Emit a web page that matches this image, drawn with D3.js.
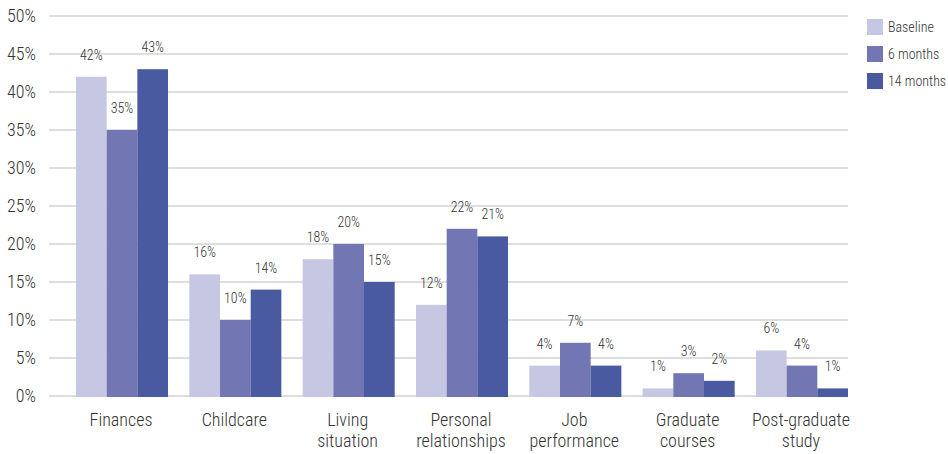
<!DOCTYPE html>
<html>
<head>
<meta charset="utf-8">
<script src="https://cdn.jsdelivr.net/npm/d3@7/dist/d3.min.js"></script>
<style>
  html, body { margin: 0; padding: 0; background: #fff; }
  svg { display: block; }
  text { font-family: "Roboto Condensed", "Liberation Sans Narrow", "DejaVu Sans Condensed", "DejaVu Sans", sans-serif; font-stretch: condensed; font-weight: 300; }
</style>
</head>
<body>
<svg id="chart" width="948" height="454"></svg>
<script>
// Share of respondents reporting each area as affected, by survey wave
const categories = [
  ["Finances"],
  ["Childcare"],
  ["Living", "situation"],
  ["Personal", "relationships"],
  ["Job", "performance"],
  ["Graduate", "courses"],
  ["Post-graduate", "study"]
];
const seriesNames = ["Baseline", "6 months", "14 months"];
const baseline   = [42, 16, 18, 12, 4, 1, 6];
const sixMonths  = [35, 10, 20, 22, 7, 3, 4];
const fourteenMo = [43, 14, 15, 21, 4, 2, 1];
const yTicks = [0, 5, 10, 15, 20, 25, 30, 35, 40, 45, 50];
const colors = ["#c6c8e3", "#7276b3", "#4a5aa0"];

const seriesValues = [baseline, sixMonths, fourteenMo];
const catKeys = categories.map(c => c.join(" "));
const textColor = "#333";

const svg = d3.select("#chart");

const x = d3.scaleBand()
  .domain(catKeys)
  .range([76, 848])
  .paddingInner(0.188)
  .paddingOuter(0);

const xs = d3.scaleBand()
  .domain(seriesNames)
  .range([0, x.bandwidth()])
  .padding(0);

const y = d3.scaleLinear()
  .domain([0, 50])
  .range([396, 16]);

// horizontal gridlines
svg.append("g")
  .selectAll("line")
  .data(yTicks)
  .join("line")
  .attr("x1", 49)
  .attr("x2", 848)
  .attr("y1", d => y(d))
  .attr("y2", d => y(d))
  .attr("stroke", "#d3d3d3")
  .attr("stroke-width", 1.5);

// y axis labels
const yAxis = d3.axisLeft(y)
  .tickValues(yTicks)
  .tickFormat(d => d + "%")
  .tickSize(0)
  .tickPadding(0);

const yg = svg.append("g")
  .attr("transform", "translate(36,0)")
  .call(yAxis);
yg.select(".domain").remove();
yg.attr("font-family", null);
yg.selectAll("text")
  .attr("fill", textColor)
  .style("font-size", "18px");

// bars
const groups = svg.append("g")
  .selectAll("g")
  .data(catKeys)
  .join("g")
  .attr("transform", d => `translate(${x(d)},0)`);

groups.selectAll("rect")
  .data((d, i) => seriesNames.map((s, j) => ({ s, v: seriesValues[j][i], j })))
  .join("rect")
  .attr("x", d => xs(d.s))
  .attr("width", xs.bandwidth())
  .attr("y", d => y(d.v))
  .attr("height", d => y(0) - y(d.v) + 1)
  .attr("fill", d => colors[d.j]);

groups.selectAll("text.val")
  .data((d, i) => seriesNames.map((s, j) => ({ s, v: seriesValues[j][i] })))
  .join("text")
  .attr("class", "val")
  .attr("x", d => xs(d.s) + xs.bandwidth() / 2)
  .attr("y", d => y(d.v) - 17)
  .attr("text-anchor", "middle")
  .attr("fill", textColor)
  .style("font-size", "14px")
  .text(d => d.v + "%");

// category labels
const xl = svg.append("g");
categories.forEach((lines, i) => {
  const cx = x(catKeys[i]) + x.bandwidth() / 2 - 1;
  const t = xl.append("text")
    .attr("x", cx)
    .attr("y", 426)
    .attr("text-anchor", "middle")
    .attr("fill", textColor)
    .style("font-size", "18px");
  lines.forEach((ln, k) => {
    t.append("tspan")
      .attr("x", cx)
      .attr("dy", k === 0 ? 0 : 21)
      .text(ln);
  });
});

// legend
const legend = svg.append("g").attr("transform", "translate(867,19)");
seriesNames.forEach((name, i) => {
  const row = legend.append("g").attr("transform", `translate(0,${i * 27})`);
  row.append("rect")
    .attr("width", 16)
    .attr("height", 16)
    .attr("fill", colors[i]);
  row.append("text")
    .attr("x", 21)
    .attr("y", 13)
    .attr("fill", textColor)
    .style("font-size", "14px")
    .text(name);
});
</script>
</body>
</html>
